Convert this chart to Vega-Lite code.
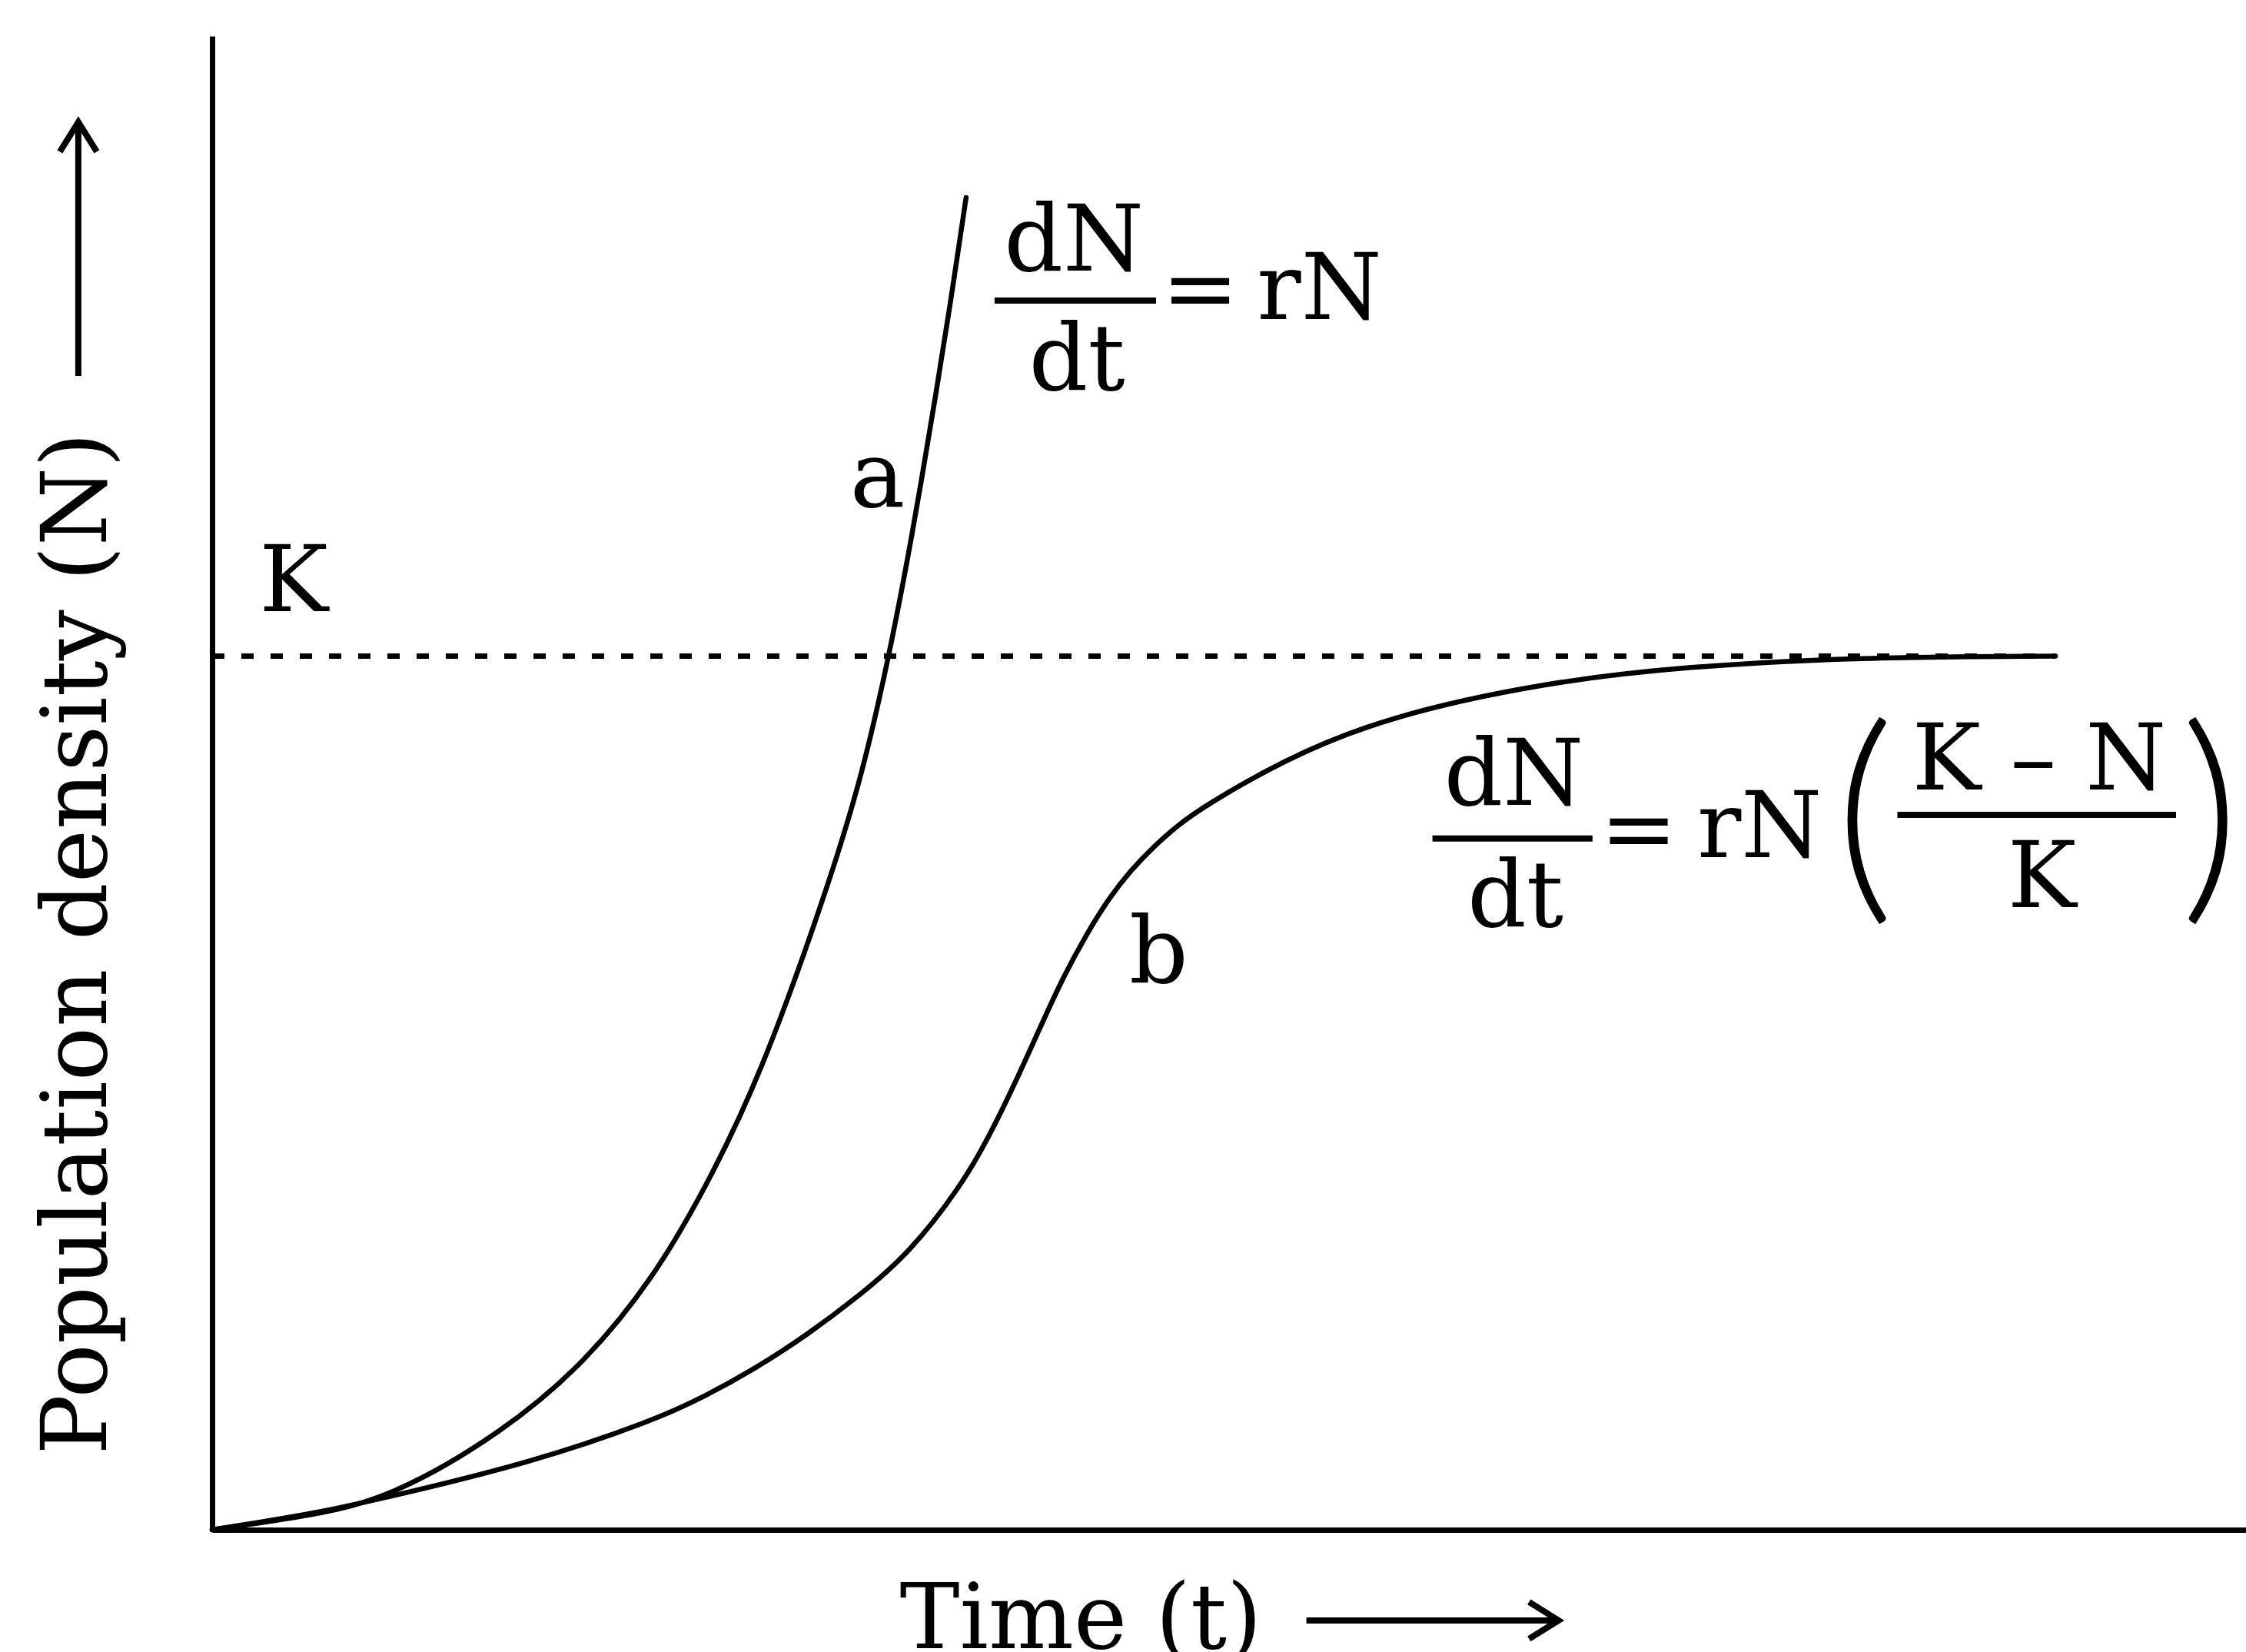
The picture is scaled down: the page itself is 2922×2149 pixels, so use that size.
{
  "$schema": "https://vega.github.io/schema/vega-lite/v6.json",
  "width": 2646,
  "height": 1943,
  "autosize": {"type": "none"},
  "padding": {"left": 276, "top": 47, "right": 0, "bottom": 159},
  "background": "#ffffff",
  "config": {"view": {"stroke": null}},
  "datasets": {
    "klevel": [{"t": 0, "t2": 90.63, "N": 58.49}],
    "curves": [
      {"curve": "a", "t": 0, "N": 0},
      {"curve": "a", "t": 5.06, "N": 0.98},
      {"curve": "a", "t": 8.81, "N": 2.16},
      {"curve": "a", "t": 14.36, "N": 6.59},
      {"curve": "a", "t": 18.33, "N": 11.17},
      {"curve": "a", "t": 21.69, "N": 16.83},
      {"curve": "a", "t": 24.21, "N": 22.75},
      {"curve": "a", "t": 26.98, "N": 30.37},
      {"curve": "a", "t": 30.52, "N": 43.98},
      {"curve": "a", "t": 32.03, "N": 50.95},
      {"curve": "a", "t": 33.28, "N": 58.47},
      {"curve": "a", "t": 34.4, "N": 66.39},
      {"curve": "a", "t": 35.67, "N": 76.69},
      {"curve": "a", "t": 36.36, "N": 82.68},
      {"curve": "a", "t": 37.07, "N": 89.19},
      {"curve": "b", "t": 0, "N": 0},
      {"curve": "b", "t": 5.06, "N": 1.08},
      {"curve": "b", "t": 9.07, "N": 2.32},
      {"curve": "b", "t": 15.68, "N": 4.5},
      {"curve": "b", "t": 21.69, "N": 7.3},
      {"curve": "b", "t": 24.21, "N": 8.92},
      {"curve": "b", "t": 26.73, "N": 10.81},
      {"curve": "b", "t": 29.25, "N": 13.04},
      {"curve": "b", "t": 31.77, "N": 15.61},
      {"curve": "b", "t": 34.29, "N": 18.53},
      {"curve": "b", "t": 36.81, "N": 22.99},
      {"curve": "b", "t": 38.2, "N": 26.3},
      {"curve": "b", "t": 39.58, "N": 30.2},
      {"curve": "b", "t": 40.7, "N": 33.6},
      {"curve": "b", "t": 41.84, "N": 37.0},
      {"curve": "b", "t": 43.0, "N": 39.9},
      {"curve": "b", "t": 44.1, "N": 42.3},
      {"curve": "b", "t": 45.2, "N": 44.2},
      {"curve": "b", "t": 46.26, "N": 45.7},
      {"curve": "b", "t": 47.5, "N": 47.2},
      {"curve": "b", "t": 48.79, "N": 48.45},
      {"curve": "b", "t": 52.57, "N": 51.47},
      {"curve": "b", "t": 57.6, "N": 54.4},
      {"curve": "b", "t": 65.68, "N": 56.77},
      {"curve": "b", "t": 72.45, "N": 57.8},
      {"curve": "b", "t": 80.91, "N": 58.41},
      {"curve": "b", "t": 90.63, "N": 58.49}
    ],
    "bars": [
      {"t": 38.47, "t2": 46.41, "N": 82.3},
      {"t": 60.0, "t2": 67.87, "N": 46.28},
      {"t": 82.86, "t2": 96.56, "N": 47.86}
    ],
    "labels": [
      {"label": "K", "t": 4.01, "N": 61.5},
      {"label": "a", "t": 32.71, "N": 68.5},
      {"label": "b", "t": 46.54, "N": 36.64},
      {"label": "dN", "t": 42.37, "N": 84.3},
      {"label": "dt", "t": 42.52, "N": 76.33},
      {"label": "=", "t": 48.58, "N": 81.0},
      {"label": "rN", "t": 54.44, "N": 81.06},
      {"label": "dN", "t": 64.0, "N": 48.53},
      {"label": "dt", "t": 64.08, "N": 40.4},
      {"label": "=", "t": 70.14, "N": 44.83},
      {"label": "rN", "t": 76.08, "N": 45.03},
      {"label": "K – N", "t": 89.83, "N": 49.58},
      {"label": "K", "t": 89.97, "N": 41.69}
    ],
    "parens": [
      {"label": "(", "t": 81.25, "N": 42.6},
      {"label": ")", "t": 98.24, "N": 42.6}
    ],
    "shafts": [
      {"t": -6.58, "t2": -6.58, "N": 77.25, "N2": 94.1},
      {"t": 53.8, "t2": 66.15, "N": -6.07, "N2": -6.07}
    ],
    "headUp": [{"t": -6.58, "N": 94.24}],
    "headRight": [{"t": 66.2, "N": -6.07}]
  },
  "encoding": {
    "x": {
      "field": "t",
      "type": "quantitative",
      "scale": {"domain": [0, 100], "nice": false, "zero": false},
      "axis": {
        "title": "Time (t)",
        "labels": false,
        "ticks": false,
        "grid": false,
        "domainColor": "#000000",
        "domainWidth": 7,
        "titleFont": "DejaVu Serif",
        "titleFontSize": 117,
        "titleFontWeight": "normal",
        "titleColor": "#000000",
        "titleX": 894,
        "titleY": 153,
        "titleAngle": 0,
        "titleAlign": "left",
        "titleBaseline": "alphabetic"
      }
    },
    "y": {
      "field": "N",
      "type": "quantitative",
      "scale": {"domain": [0, 100], "nice": false, "zero": false},
      "axis": {
        "title": "Population density (N)",
        "labels": false,
        "ticks": false,
        "grid": false,
        "domainColor": "#000000",
        "domainWidth": 7,
        "titleFont": "DejaVu Serif",
        "titleFontSize": 117,
        "titleFontWeight": "normal",
        "titleColor": "#000000",
        "titleX": -139,
        "titleY": 1845,
        "titleAngle": 270,
        "titleAlign": "left",
        "titleBaseline": "alphabetic"
      }
    }
  },
  "layer": [
    {
      "data": {"name": "klevel"},
      "mark": {"type": "rule", "strokeDash": [16, 22], "strokeWidth": 7, "color": "#000000"},
      "encoding": {"x2": {"field": "t2"}}
    },
    {
      "data": {"name": "curves"},
      "mark": {"type": "line", "interpolate": "basis", "strokeWidth": 6.5, "color": "#000000", "strokeCap": "round"},
      "encoding": {"detail": {"field": "curve", "type": "nominal"}}
    },
    {
      "data": {"name": "bars"},
      "mark": {"type": "rule", "strokeWidth": 8, "color": "#000000"},
      "encoding": {"x2": {"field": "t2"}}
    },
    {
      "data": {"name": "labels"},
      "mark": {"type": "text", "font": "DejaVu Serif", "fontSize": 120, "align": "center", "baseline": "alphabetic", "color": "#000000"},
      "encoding": {"text": {"field": "label", "type": "nominal"}}
    },
    {
      "data": {"name": "parens"},
      "mark": {"type": "text", "font": "Lato", "fontWeight": 300, "fontSize": 301, "align": "center", "baseline": "alphabetic", "color": "#000000"},
      "encoding": {"text": {"field": "label", "type": "nominal"}}
    },
    {
      "data": {"name": "shafts"},
      "mark": {"type": "rule", "strokeWidth": 8, "color": "#000000"},
      "encoding": {"x2": {"field": "t2"}, "y2": {"field": "N2"}}
    },
    {
      "data": {"name": "headUp"},
      "mark": {"type": "point", "shape": "M-1,1.6L0,0L1,1.6", "size": 2304, "filled": false, "stroke": "#000000", "strokeWidth": 8, "opacity": 1, "angle": 0},
      "encoding": {}
    },
    {
      "data": {"name": "headRight"},
      "mark": {"type": "point", "shape": "M-1,1.6L0,0L1,1.6", "size": 2304, "filled": false, "stroke": "#000000", "strokeWidth": 8, "opacity": 1, "angle": 90},
      "encoding": {}
    }
  ]
}
